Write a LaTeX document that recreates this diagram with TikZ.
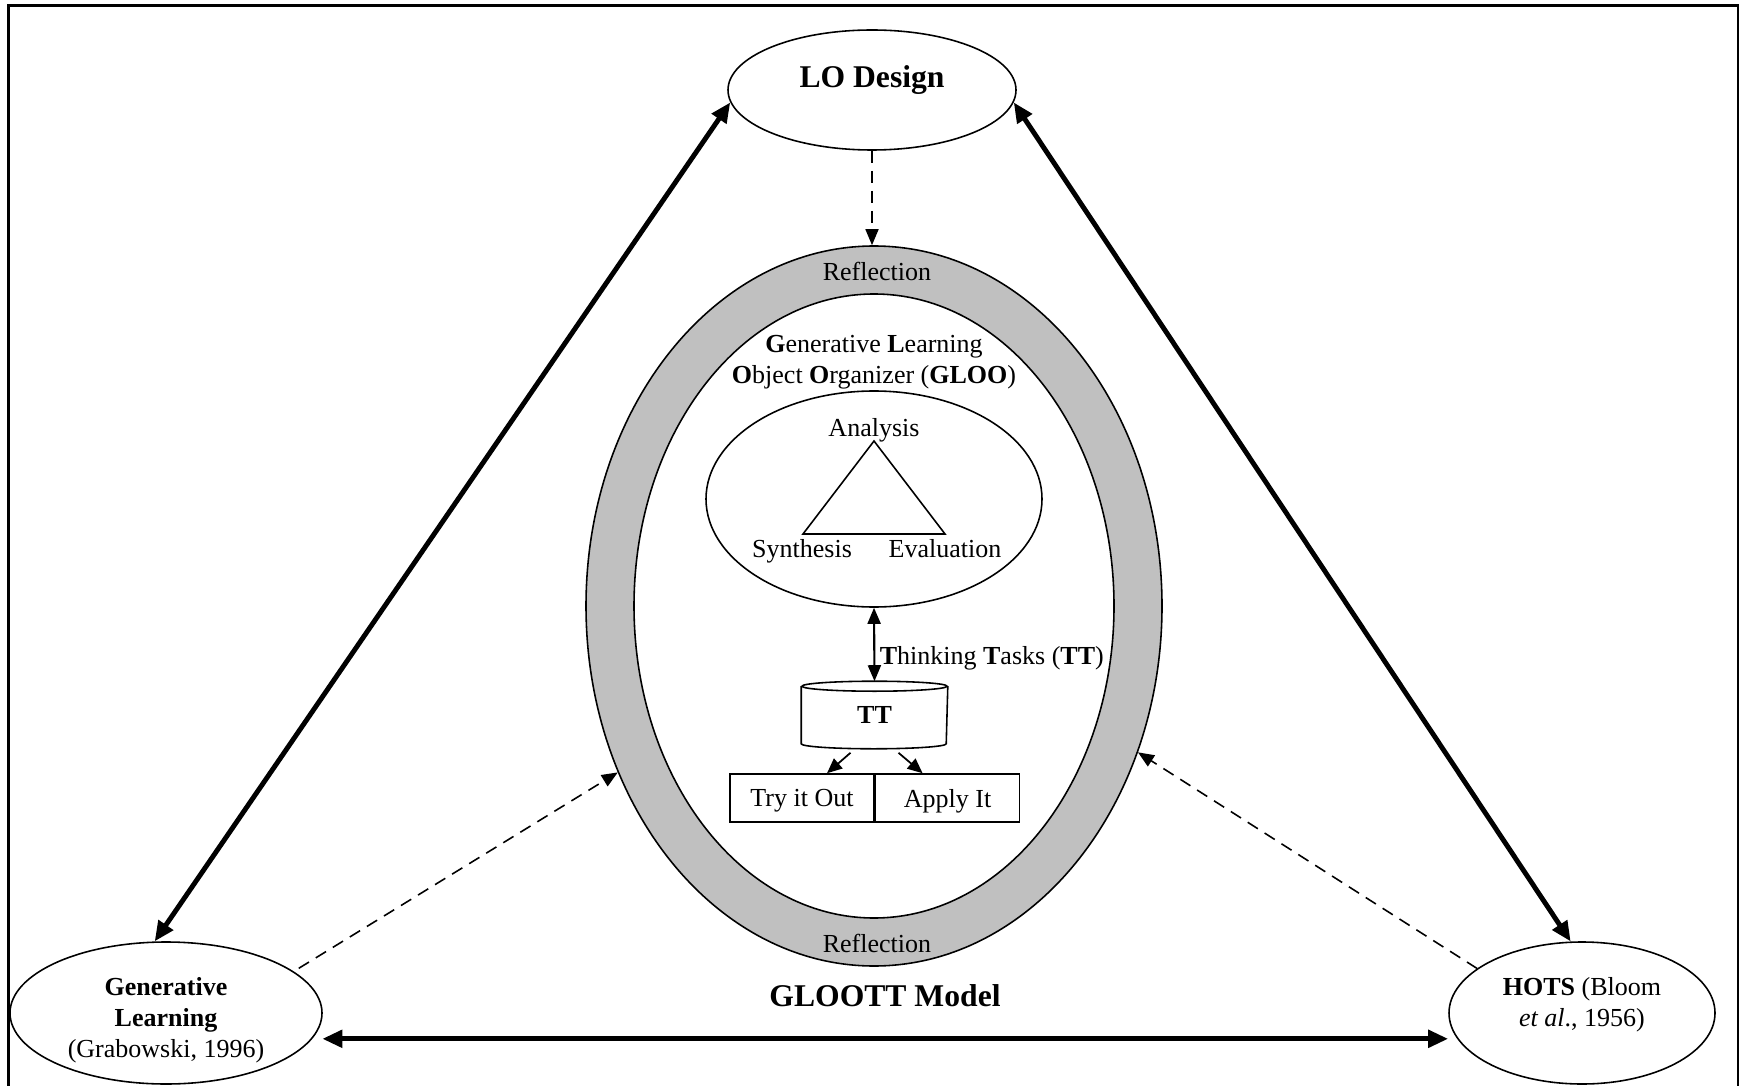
\documentclass[tikz,border=0pt]{standalone}
\usepackage{fontspec}
\setmainfont{Liberation Serif}
\usepackage{tikz}
\usetikzlibrary{positioning,calc,shapes.geometric,arrows.meta}
\definecolor{RingGray}{RGB}{192,192,192}
\tikzset{
    ovalnode/.style={ellipse, draw, line width=0.45pt, fill=white, inner sep=0pt, align=center},
    taskbox/.style={rectangle, draw, line width=0.45pt, minimum width=1.44cm, minimum height=0.48cm, inner sep=0pt, text depth=0pt},
    bigtext/.style={font=\fontsize{9}{11}\selectfont\bfseries}
}

\begin{document}
\begin{tikzpicture}[
                font=\fontsize{7.4}{8.8}\selectfont,
                line width=0.45pt,
                % mui ten dam hai chieu
                bigarrow/.style={{Triangle[length=2mm,width=1.7mm]}-{Triangle[length=2mm,width=1.7mm]}, line width=1.4pt},
                % mui ten net dut
                dasharrow/.style={-{Triangle[length=1.6mm,width=1.3mm]}, dash pattern=on 1.2mm off 0.8mm, line width=0.45pt},
                smallarrow/.style={-{Triangle[length=1.5mm,width=1.3mm]}, line width=0.5pt}
            ]
                \useasboundingbox (0,0) rectangle (17.41,-10.86);

                % 1. KHUNG
                \draw[line width=0.6pt] (0.085,-10.86) -- (0.085,-0.055) -- (17.38,-0.055) -- (17.38,-10.86);

                % 2. VONG REFLECTION
                \node[ovalnode, fill=RingGray, minimum width=5.76cm, minimum height=7.2cm] (ring) at (8.74,-6.06) {};
                \node[ovalnode, minimum width=4.8cm, minimum height=6.24cm,
                      path picture={\draw (5,-6.31) -- (12.5,-6.31);}] (gloo) at (8.74,-6.06) {};
                \node (refltop) at (8.77,-2.71) {Reflection};
                \node (reflbot) at (8.77,-9.43) {Reflection};

                % 3. GLOO
                \node[align=center] (gloottl) at (8.74,-3.62)
                    {\textbf{G}enerative \textbf{L}earning\\\textbf{O}bject \textbf{O}rganizer (\textbf{GLOO})};
                \node[ovalnode, minimum width=3.36cm, minimum height=2.16cm] (triad) at (8.74,-4.99) {};
                \coordinate (ana) at (8.74,-4.41);
                \coordinate (syn) at (8.03,-5.34);
                \coordinate (eva) at (9.45,-5.34);
                \draw (ana) -- (syn) -- (eva) -- cycle;
                \node (analysis) at (8.74,-4.30) {Analysis};
                \node (synthesis) at (8.02,-5.51) {Synthesis};
                \node (evaluation) at (9.45,-5.49) {Evaluation};

                % 4. THINKING TASKS
                \node[minimum width=1.45cm, minimum height=0.56cm, inner sep=0pt] (tt) at (8.745,-7.15) {\textbf{TT}};
                \draw (tt.north west) -- (tt.south west)
                    arc[start angle=180, end angle=360, x radius=0.725, y radius=0.05] -- (tt.north east);
                \draw (tt.north) ellipse [x radius=0.725, y radius=0.05];
                \draw[{Triangle[length=1.6mm,width=1.3mm]}-{Triangle[length=1.6mm,width=1.3mm]}, line width=0.6pt]
                    (triad.south) -- ([yshift=0.5mm]tt.north);
                \node[anchor=west, inner sep=0pt] (ttlabel) at (8.79,-6.58) {\textbf{T}hinking \textbf{T}asks (\textbf{TT})};

                \node[taskbox] (tryit) at (8.02,-7.98) {Try it Out};
                \node[taskbox, right=0pt of tryit] (applyit) {Apply It};
                \draw[smallarrow] ([xshift=-2.4mm,yshift=-0.9mm]tt.south) -- ([xshift=2.5mm]tryit.north);
                \draw[smallarrow] ([xshift=2.4mm,yshift=-0.9mm]tt.south) -- ([xshift=-2.5mm]applyit.north);

                \node[bigtext] (model) at (8.85,-9.96) {GLOOTT Model};

                % 5. BA NUT NGOAI
                \node[ovalnode, bigtext, minimum width=2.88cm, minimum height=1.2cm] (lo) at (8.72,-0.90)
                    {\raisebox{2.6mm}{LO Design}};
                \node[ovalnode, minimum width=3.12cm, minimum height=1.42cm] (gl) at (1.66,-10.13) {};
                \node[align=center] (gltext) at (1.66,-10.2)
                    {\textbf{Generative}\\\textbf{Learning}\\(Grabowski, 1996)};
                \node[ovalnode, minimum width=2.66cm, minimum height=1.42cm] (hots) at (15.82,-10.13) {};
                \node[align=center] (hotstext) at (15.82,-10.05) {\textbf{HOTS} (Bloom\\\textit{et al}., 1956)};

                % 6. MUI TEN
                \draw[bigarrow] (lo.185) -- (gl.99);
                \draw[bigarrow] (lo.355) -- (hots.99);
                \draw[bigarrow] ([xshift=1mm]gl.-10) -- (gl.-10 -| hots.west);
                \draw[dasharrow] (lo.south) -- (lo.south |- ring.north);
                \draw[dasharrow] ([xshift=1mm]gl.20) -- (ring.213);
                \draw[dasharrow] (hots.157) -- (ring.331);

            \end{tikzpicture}
\end{document}
